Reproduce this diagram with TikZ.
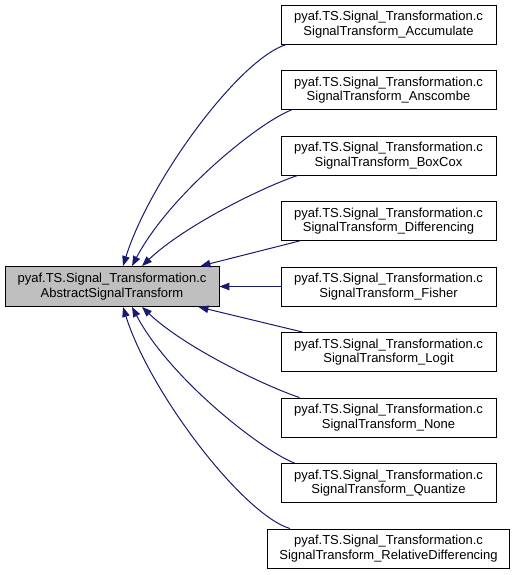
\documentclass[tikz,border=0pt]{standalone}
\usepackage{fontspec}
\setmainfont{Liberation Sans}
\usetikzlibrary{arrows.meta,positioning}
\definecolor{edgeblue}{HTML}{191970}
\definecolor{basegray}{HTML}{BFBFBF}

\begin{document}
\begin{tikzpicture}[x=1pt, y=-1pt,
  cls/.style={draw, line width=0.9pt, align=center, inner sep=0pt,
              minimum width=215pt, minimum height=39pt,
              font=\fontsize{13}{14.5}\selectfont},
  base/.style={cls, fill=basegray, minimum width=214pt, minimum height=40pt},
  arr/.style={-{Triangle[length=10pt, width=7.5pt]}, color=edgeblue, line width=1pt},
  node distance=25.6pt]
\useasboundingbox (0,0) rectangle (515,575);
\node[base] (abs) at (112,286.5) {pyaf.TS.Signal\_Transformation.c\\AbstractSignalTransform};
\node[cls] (accum) at (388.5,24.5) {pyaf.TS.Signal\_Transformation.c\\SignalTransform\_Accumulate};
\node[cls, below=of accum] (ansc) {pyaf.TS.Signal\_Transformation.c\\SignalTransform\_Anscombe};
\node[cls, below=of ansc] (boxcox) {pyaf.TS.Signal\_Transformation.c\\SignalTransform\_BoxCox};
\node[cls, below=of boxcox] (diffr) {pyaf.TS.Signal\_Transformation.c\\SignalTransform\_Differencing};
\node[cls, below=of diffr] (fisher) {pyaf.TS.Signal\_Transformation.c\\SignalTransform\_Fisher};
\node[cls, below=of fisher] (logit) {pyaf.TS.Signal\_Transformation.c\\SignalTransform\_Logit};
\node[cls, below=of logit] (nonetr) {pyaf.TS.Signal\_Transformation.c\\SignalTransform\_None};
\node[cls, below=of nonetr] (quant) {pyaf.TS.Signal\_Transformation.c\\SignalTransform\_Quantize};
\node[cls, below=of quant, minimum width=242pt] (reldiff) {pyaf.TS.Signal\_Transformation.c\\SignalTransform\_RelativeDifferencing};
\draw[arr] ([xshift=6pt]accum.south west) .. controls +(-47,14) and +(27,-86) .. ([xshift=11pt]abs.north);
\draw[arr] ([xshift=11pt]ansc.south west) .. controls +(-32,12) and +(38,-72) .. ([xshift=20pt]abs.north);
\draw[arr] ([xshift=17pt]boxcox.south west) .. controls +(-33,11) and +(43,-41) .. ([xshift=30pt]abs.north);
\draw[arr] ([xshift=19pt]diffr.south west) -- ([xshift=-19pt]abs.north east);
\draw[arr] (fisher.west) -- (abs.east);
\draw[arr] ([xshift=22pt]logit.north west) -- ([xshift=-21pt]abs.south east);
\draw[arr] ([xshift=19pt]nonetr.north west) .. controls +(-33,-11) and +(43,41) .. ([xshift=30pt]abs.south);
\draw[arr] ([xshift=14pt]quant.north west) .. controls +(-32,-12) and +(38,72) .. ([xshift=20pt]abs.south);
\draw[arr] ([xshift=23pt]reldiff.north west) .. controls +(-47,-14) and +(27,86) .. ([xshift=11pt]abs.south);
\end{tikzpicture}
\end{document}
